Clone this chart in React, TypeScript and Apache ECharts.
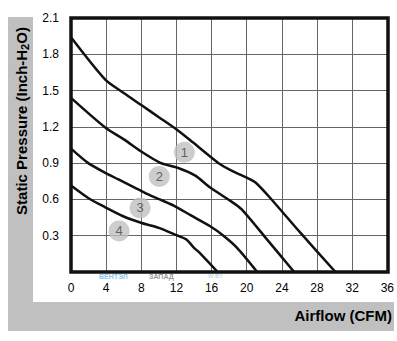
import React, { useEffect, useRef } from "react";
import * as echarts from "echarts";

// Airflow (CFM) vs Static Pressure (Inch-H2O)
const curve1: number[][] = [
  [0, 1.94], [3.9, 1.59], [6, 1.48], [8, 1.38], [10, 1.28], [11.8, 1.19],
  [13.9, 1.07], [16.8, 0.9], [18.5, 0.83], [20, 0.78], [21, 0.74],
  [22.7, 0.61], [26.1, 0.325], [30.1, 0],
];
const curve2: number[][] = [
  [0, 1.44], [3.9, 1.195], [6.15, 1.09], [7.9, 1.0], [10.1, 0.905],
  [12.2, 0.86], [14.2, 0.795], [15.8, 0.7], [18.1, 0.59], [19.4, 0.52],
  [22.3, 0.27], [25.4, 0],
];
const curve3: number[][] = [
  [0, 1.02], [1.97, 0.9], [3.9, 0.82], [5.4, 0.765], [7.3, 0.695],
  [8.4, 0.655], [10.1, 0.6], [11.8, 0.545], [13.6, 0.47], [15.8, 0.38],
  [17.35, 0.3], [18.9, 0.2], [21.2, 0],
];
const curve4: number[][] = [
  [0, 0.715], [2, 0.61], [3.9, 0.535], [5.8, 0.465], [8.05, 0.405],
  [10, 0.365], [12, 0.305], [13.1, 0.27], [14, 0.2], [14.7, 0.155],
  [16.7, 0],
];
const curves = [curve1, curve2, curve3, curve4];
const curveNames = ["1", "2", "3", "4"];
const markerPositions: number[][] = [
  [12.9, 0.99], [10.05, 0.79], [7.86, 0.53], [5.47, 0.34],
];

const X_MIN = 0;
const X_MAX = 36;
const X_STEP = 4;
const Y_MIN = 0;
const Y_MAX = 2.1;
const Y_STEP = 0.3;

const xTitle = "Airflow (CFM)";
const yTitle = "Static Pressure (Inch-H{sub|2}O)";

const FONT = "'Liberation Sans', Arial, sans-serif";

export default function App() {
  const ref = useRef<HTMLDivElement>(null);
  useEffect(() => {
    document.body.style.margin = "0";
    const chart = echarts.init(ref.current!, null, { renderer: "svg" });
    const lineSeries = curves.map((c, i) => ({
      name: curveNames[i],
      type: "line",
      data: c,
      symbol: "none",
      showSymbol: false,
      smooth: 0.25,
      lineStyle: { color: "#111", width: 2.5 },
      z: 3,
    }));
    const markers = {
      type: "scatter",
      data: markerPositions.map((p, i) => [p[0], p[1], curveNames[i]]),
      symbol: "circle",
      symbolSize: 21,
      itemStyle: { color: "#c0c0c0" },
      label: {
        show: true,
        position: "inside",
        formatter: (p: any) => p.value[2],
        color: "#444",
        fontSize: 13,
        fontFamily: FONT,
      },
      z: 5,
    };
    chart.setOption({
      animation: false,
      backgroundColor: "#fff",
      grid: { left: 71, top: 18, right: 9, bottom: 69, containLabel: false },
      xAxis: {
        type: "value",
        min: X_MIN,
        max: X_MAX,
        interval: X_STEP,
        axisLine: { show: false },
        axisTick: { show: false },
        axisLabel: {
          color: "#000",
          fontSize: 12,
          fontFamily: FONT,
          margin: 10,
        },
        splitLine: {
          show: true,
          showMinLine: false,
          showMaxLine: false,
          lineStyle: { color: "#666", width: 1 },
        },
      },
      yAxis: {
        type: "value",
        min: Y_MIN,
        max: Y_MAX,
        interval: Y_STEP,
        axisLine: { show: false },
        axisTick: { show: false },
        axisLabel: {
          color: "#000",
          fontSize: 12,
          fontFamily: FONT,
          margin: 12,
          formatter: (v: number) => (v === 0 ? "" : v.toFixed(1)),
        },
        splitLine: {
          show: true,
          showMinLine: false,
          showMaxLine: false,
          lineStyle: { color: "#666", width: 1 },
        },
      },
      graphic: [
        {
          type: "rect",
          z: -10,
          shape: { x: 8, y: 17, width: 25, height: 314 },
          style: { fill: "#c0c0c0" },
        },
        {
          type: "rect",
          z: -10,
          shape: { x: 8, y: 302, width: 386, height: 29 },
          style: { fill: "#c0c0c0" },
        },
        {
          type: "rect",
          z: 100,
          shape: { x: 71, y: 18, width: 317, height: 254 },
          style: { fill: "none", stroke: "#111", lineWidth: 3.5 },
        },
        {
          type: "text",
          x: 21,
          y: 121,
          rotation: Math.PI / 2,
          z: 10,
          style: {
            text: yTitle,
            fontSize: 15,
            fontWeight: "bold",
            fontFamily: FONT,
            fill: "#000",
            align: "center",
            verticalAlign: "middle",
            lineHeight: 18,
            rich: {
              sub: {
                fontSize: 11,
                fontWeight: "bold",
                fontFamily: FONT,
                fill: "#000",
                verticalAlign: "bottom",
              },
            },
          },
        },
        {
          type: "text",
          x: 392,
          y: 315,
          z: 10,
          style: {
            text: xTitle,
            fontSize: 15,
            fontWeight: "bold",
            fontFamily: FONT,
            fill: "#000",
            align: "right",
            verticalAlign: "middle",
          },
        },
        {
          type: "text",
          x: 99,
          y: 276,
          z: -1,
          style: {
            text: "ВЕНТЭЛ",
            fontSize: 7,
            fontWeight: "bold",
            fontFamily: FONT,
            fill: "#8cc6ea",
            align: "left",
            verticalAlign: "middle",
          },
        },
        {
          type: "text",
          x: 149,
          y: 276,
          z: -1,
          style: {
            text: "ЗАПАД",
            fontSize: 7,
            fontWeight: "bold",
            fontFamily: FONT,
            fill: "#9a9a9a",
            align: "left",
            verticalAlign: "middle",
          },
        },
        {
          type: "text",
          x: 208,
          y: 276,
          z: -1,
          style: {
            text: "W.BY",
            fontSize: 6,
            fontFamily: FONT,
            fill: "#a8c8e0",
            align: "left",
            verticalAlign: "middle",
          },
        },
      ],
      series: [...lineSeries, markers],
    });
    return () => chart.dispose();
  }, []);
  return <div ref={ref} style={{ width: 397, height: 341 }} />;
}
